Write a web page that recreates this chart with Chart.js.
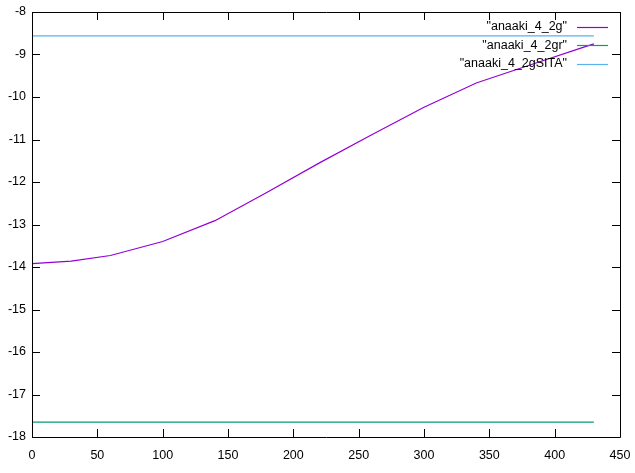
<!DOCTYPE html>
<html>
<head>
<meta charset="utf-8">
<script src="https://cdn.jsdelivr.net/npm/chart.js@4"></script>
<style>
html,body{margin:0;padding:0;background:#fff;}
#wrap{width:635px;height:473px;position:relative;}
</style>
</head>
<body>
<div id="wrap"><canvas id="c" width="635" height="473"></canvas></div>
<script>
// Data
const xValues = [0, 30, 60, 100, 140, 180, 220, 260, 300, 340, 380, 420, 430];
const series2g = [-13.92, -13.86, -13.73, -13.40, -12.91, -12.24, -11.55, -10.89, -10.24, -9.67, -9.26, -8.85, -8.75];
const series2gr = [-17.65, -17.65, -17.65, -17.65, -17.65, -17.65, -17.65, -17.65, -17.65, -17.65, -17.65, -17.65, -17.65];
const series2gSITA = [-8.56, -8.56, -8.56, -8.56, -8.56, -8.56, -8.56, -8.56, -8.56, -8.56, -8.56, -8.56, -8.56];
const seriesLabels = ['"anaaki_4_2g"', '"anaaki_4_2gr"', '"anaaki_4_2gSITA"'];
const seriesColors = ['#9400d3', '#009e73', '#56b4e9'];
const xTicks = [0, 50, 100, 150, 200, 250, 300, 350, 400, 450];
const yTicks = [-18, -17, -16, -15, -14, -13, -12, -11, -10, -9, -8];

const FONT = 'Liberation Sans';
const toPts = (ys) => xValues.map((x, i) => ({x: x, y: ys[i]}));
const allSeries = [series2g, series2gr, series2gSITA];

const gnuplotFrame = {
  id: 'gnuplotFrame',
  afterDraw(chart) {
    const ctx = chart.ctx;
    const a = chart.chartArea;
    const xs = chart.scales.x, ys = chart.scales.y;
    const L = 8;
    ctx.save();
    ctx.strokeStyle = '#000';
    ctx.lineWidth = 1;
    ctx.beginPath();
    xTicks.forEach(v => {
      const px = Math.round(xs.getPixelForValue(v)) + 0.5;
      ctx.moveTo(px, a.bottom); ctx.lineTo(px, a.bottom - L);
      ctx.moveTo(px, a.top); ctx.lineTo(px, a.top + L);
    });
    yTicks.forEach(v => {
      const py = Math.round(ys.getPixelForValue(v)) + 0.5;
      ctx.moveTo(a.left, py); ctx.lineTo(a.left + L, py);
      ctx.moveTo(a.right, py); ctx.lineTo(a.right - L, py);
    });
    ctx.stroke();
    ctx.beginPath();
    ctx.rect(Math.round(a.left) + 0.5, Math.round(a.top) + 0.5, Math.round(a.right - a.left), Math.round(a.bottom - a.top));
    ctx.stroke();
    // legend (gnuplot style: text right-aligned, sample to the right)
    ctx.font = '12.5px "' + FONT + '"';
    ctx.textAlign = 'right';
    ctx.textBaseline = 'middle';
    seriesLabels.forEach((lab, i) => {
      const y = 27 + i * 18.3;
      ctx.fillStyle = '#000';
      ctx.fillText(lab, 567, y);
      ctx.strokeStyle = seriesColors[i];
      ctx.lineWidth = 1.2;
      ctx.beginPath();
      ctx.moveTo(577, Math.round(y) + 0.5);
      ctx.lineTo(608, Math.round(y) + 0.5);
      ctx.stroke();
    });
    ctx.restore();
  }
};

new Chart(document.getElementById('c'), {
  type: 'line',
  data: {
    datasets: allSeries.map((s, i) => ({
      label: seriesLabels[i],
      data: toPts(s),
      borderColor: seriesColors[i],
      backgroundColor: seriesColors[i],
      borderWidth: 1.2,
      pointRadius: 0,
      tension: 0,
      fill: false
    }))
  },
  options: {
    responsive: false,
    animation: false,
    layout: {padding: {top: 12, right: 15, left: 0, bottom: 0}},
    plugins: {legend: {display: false}, tooltip: {enabled: false}},
    scales: {
      x: {
        type: 'linear', min: 0, max: 450,
        afterBuildTicks: (s) => { s.ticks = xTicks.map(v => ({value: v})); },
        afterFit: (s) => { s.height = 36; s.paddingLeft = 0; s.paddingRight = 0; },
        grid: {display: false, drawTicks: false},
        border: {display: false},
        ticks: {color: '#000', font: {family: FONT, size: 12.5}, padding: 11, maxRotation: 0, autoSkip: false}
      },
      y: {
        type: 'linear', min: -18, max: -8,
        afterBuildTicks: (s) => { s.ticks = yTicks.map(v => ({value: v})); },
        afterFit: (s) => { s.width = 32; s.paddingTop = 0; s.paddingBottom = 0; },
        grid: {display: false, drawTicks: false},
        border: {display: false},
        ticks: {color: '#000', font: {family: FONT, size: 12.5}, padding: 6, autoSkip: false}
      }
    }
  },
  plugins: [gnuplotFrame]
});
</script>
</body>
</html>
